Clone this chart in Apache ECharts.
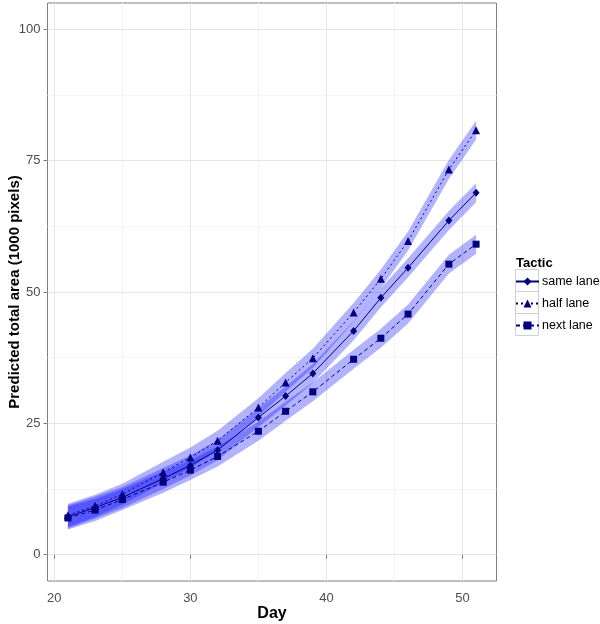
<!DOCTYPE html>
<html>
<head>
<meta charset="utf-8">
<script src="https://cdn.jsdelivr.net/npm/echarts@6/dist/echarts.min.js"></script>
<style>
  html, body { margin: 0; padding: 0; background: #fff; }
</style>
</head>
<body>
<div id="chart" style="width: 600px; height: 624px"></div>
<script>
// days sampled
const days = [21, 23, 25, 28, 30, 32, 35, 37, 39, 42, 44, 46, 49, 51];

// predicted area (1000 pixels)
const sameLane = [7.2, 9.0, 10.9, 14.5, 17.0, 19.9, 26.1, 30.2, 34.5, 42.6, 48.9, 54.6, 63.6, 68.9];
const halfLane = [7.5, 9.3, 11.5, 15.7, 18.5, 21.7, 28.0, 32.8, 37.4, 46.1, 52.5, 59.7, 73.3, 80.8];
const nextLane = [7.0, 8.5, 10.5, 13.8, 16.1, 18.7, 23.5, 27.3, 31.0, 37.2, 41.2, 45.8, 55.3, 59.1];

// confidence ribbons
const sameLow = [5.0, 6.9, 8.9, 12.5, 15.1, 18.0, 24.3, 28.4, 32.7, 40.8, 47.1, 52.8, 61.8, 67.1];
const sameHigh = [9.4, 11.1, 12.9, 16.5, 18.9, 21.8, 27.9, 32.0, 36.3, 44.4, 50.7, 56.4, 65.4, 70.7];
const halfLow = [5.3, 7.2, 9.5, 13.7, 16.6, 19.8, 26.2, 31.0, 35.6, 44.3, 50.7, 57.9, 71.5, 79.0];
const halfHigh = [9.7, 11.4, 13.5, 17.7, 20.4, 23.6, 29.8, 34.6, 39.2, 47.9, 54.3, 61.5, 75.1, 82.6];
const nextLow = [4.8, 6.4, 8.5, 11.8, 14.2, 16.8, 21.7, 25.5, 29.2, 35.4, 39.4, 44.0, 53.5, 57.3];
const nextHigh = [9.2, 10.6, 12.5, 15.8, 18.0, 20.6, 25.3, 29.1, 32.8, 39.0, 43.0, 47.6, 57.1, 60.9];

// tick labels and grid lines
const xTicks = [20, 30, 40, 50];
const yTicks = [0, 25, 50, 75, 100];
const xMinor = [25, 35, 45];
const yMinor = [12.5, 37.5, 62.5, 87.5];

const navy = "#000080";
const font = "Liberation Sans, Arial, sans-serif";

function pairs(ys) {
  return days.map((d, i) => [d, ys[i]]);
}

// ribbon drawn as one polygon through the axis scales
function ribbon(name, low, high) {
  return {
    name: name + " band",
    type: "custom",
    silent: true,
    z: 1,
    data: [[days[0], low[0]]],
    renderItem: (params, api) => {
      const pts = [];
      days.forEach((d, i) => pts.push(api.coord([d, high[i]])));
      for (let i = days.length - 1; i >= 0; i--) pts.push(api.coord([days[i], low[i]]));
      return {
        type: "polygon",
        shape: { points: pts },
        style: { fill: "rgba(0, 0, 255, 0.3)" },
      };
    },
  };
}

function line(name, ys, symbol, size, dash) {
  return {
    name: name,
    type: "line",
    z: 3,
    data: pairs(ys),
    symbol: symbol,
    symbolSize: size,
    showAllSymbol: true,
    itemStyle: { color: navy },
    lineStyle: { color: navy, width: 1, type: dash },
  };
}

function gridLines(name, xs, ys, color) {
  return {
    name: name,
    type: "line",
    data: [],
    silent: true,
    z: 0,
    markLine: {
      silent: true,
      z: 0,
      symbol: "none",
      animation: false,
      label: { show: false },
      lineStyle: { color: color, width: 1, type: "solid" },
      data: xs.map((v) => ({ xAxis: v })).concat(ys.map((v) => ({ yAxis: v }))),
    },
  };
}

const myChart = echarts.init(document.getElementById("chart"));
const option = {
  animation: false,
  textStyle: { fontFamily: font },
  title: {
    text: "Tactic",
    left: 511,
    top: 252,
    textStyle: { fontSize: 13, fontWeight: "bold", color: "#000", fontFamily: font },
  },
  legend: {
    orient: "vertical",
    left: 515,
    top: 275,
    padding: 0,
    itemWidth: 23,
    itemHeight: 10,
    itemGap: 9,
    selectedMode: false,
    data: ["same lane", "half lane", "next lane"],
    textStyle: { fontSize: 12.5, color: "#000", fontFamily: font, padding: [0, 0, 0, -2] },
  },
  graphic: [0, 1, 2].map((i) => ({
    type: "rect",
    z: -1,
    left: 515,
    top: 269 + i * 22,
    shape: { width: 23, height: 22 },
    style: { fill: "#fff", stroke: "#d0d0d0", lineWidth: 1 },
  })),
  grid: {
    left: 47.5,
    right: 103.5,
    top: 3,
    bottom: 43,
    containLabel: false,
    outerBoundsMode: "none",
    show: true,
    borderColor: "#7f7f7f",
    borderWidth: 1,
    backgroundColor: "#fff",
  },
  xAxis: {
    type: "value",
    min: 19.5,
    max: 52.5,
    name: "Day",
    nameLocation: "middle",
    nameGap: 25,
    nameMoveOverlap: false,
    nameTextStyle: { fontSize: 16, fontWeight: "bold", color: "#000", fontFamily: font },
    axisLine: { show: false },
    axisTick: { show: true, customValues: xTicks, length: 4, lineStyle: { color: "#7f7f7f" } },
    axisLabel: { customValues: xTicks, fontSize: 13, color: "#4d4d4d", margin: 11 },
    splitLine: { show: false },
  },
  yAxis: {
    type: "value",
    min: -5,
    max: 105,
    name: "Predicted total area (1000 pixels)",
    nameLocation: "middle",
    nameGap: 25,
    nameMoveOverlap: false,
    nameTextStyle: { fontSize: 15, fontWeight: "bold", color: "#000", fontFamily: font },
    axisLine: { show: false },
    axisTick: { show: true, customValues: yTicks, length: 4, lineStyle: { color: "#7f7f7f" } },
    axisLabel: { customValues: yTicks, fontSize: 13, color: "#4d4d4d", margin: 7 },
    splitLine: { show: false },
  },
  series: [
    gridLines("minor grid", xMinor, yMinor, "#f5f5f5"),
    gridLines("major grid", xTicks, yTicks, "#e6e6e6"),
    ribbon("same lane", sameLow, sameHigh),
    ribbon("half lane", halfLow, halfHigh),
    ribbon("next lane", nextLow, nextHigh),
    line("same lane", sameLane, "diamond", [7, 8], "solid"),
    line("half lane", halfLane, "triangle", 8, [2, 3]),
    line("next lane", nextLane, "rect", 7, [4, 3]),
  ],
};
myChart.setOption(option);
</script>
</body>
</html>
